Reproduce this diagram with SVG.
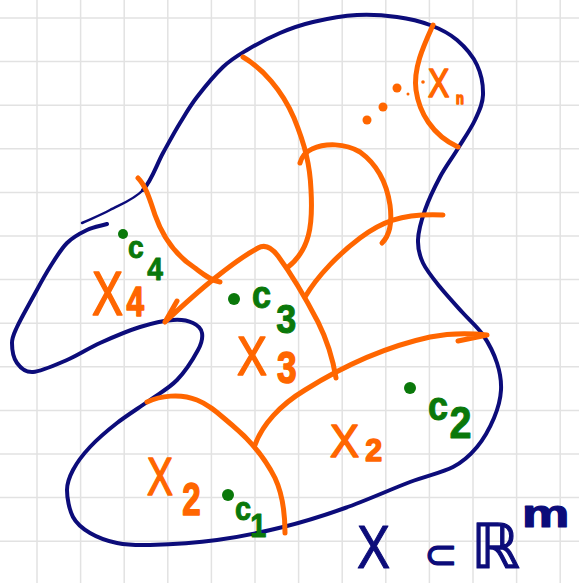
<svg xmlns="http://www.w3.org/2000/svg" width="579" height="583" viewBox="0 0 579 583">
<style>
.grid{stroke:#e2e2e2;stroke-width:1.5;fill:none}
.navy{stroke:#0c0c7a;fill:none;stroke-linecap:round;stroke-linejoin:round}
.or{stroke:#ff6600;fill:none;stroke-width:5;stroke-linecap:round;stroke-linejoin:round}
.ot{fill:#ff6600;stroke:#ff6600;stroke-width:1.6;stroke-linejoin:round;font-family:"Liberation Sans",Arial,sans-serif}
.gt{fill:#0a780a;stroke:#0a780a;stroke-width:1;stroke-linejoin:round;font-family:"Liberation Sans",Arial,sans-serif;font-weight:bold}
.nt{fill:#0c0c7a;stroke:#0c0c7a;stroke-width:1.2;stroke-linejoin:round;font-family:"Liberation Sans","DejaVu Sans",sans-serif}
.gd{fill:#0a780a}
.od{fill:#ff6600}
</style>
<rect width="579" height="583" fill="#ffffff"/>
<g id="grid">
<path class="grid" d="M37,0V583M80.6,0V583M124.2,0V583M167.8,0V583M211.4,0V583M255,0V583M298.6,0V583M342.2,0V583M385.8,0V583M429.4,0V583M473,0V583M516.6,0V583M560.2,0V583M0,18H579M0,61.6H579M0,105.2H579M0,148.8H579M0,192.4H579M0,236H579M0,279.6H579M0,323.2H579M0,366.8H579M0,410.4H579M0,454H579M0,497.6H579M0,541.2H579"/>
</g>
<g id="outline">
<path class="navy" stroke-width="2.5" d="M82,223 C91.3,218.7 99.8,215.5 110,210 S134.2,199.5 143,190 S156.8,164.2 163,153"/>
<path class="navy" stroke-width="4" d="M143,190 C151.8,180.5 156.8,164.2 163,153 S174.3,132.3 180,123 S189.8,106.3 197,97 S214.7,74.8 223,67 S237.5,55.7 247,50 S269,37.7 280,33 S300.2,25 313,22 S343,15.8 357,15 S384.8,15.3 397,17 S420,21.2 430,25 S449.2,33.3 457,40 S472.7,55.8 477,65 S483.3,85.8 483,95 S479.3,110.8 475,120 S462.8,140.5 457,150 S445.3,167 440,177 S428.7,199.5 425,210 S418.3,231.2 418,240 S419.3,255.2 423,263 S433.3,278.7 440,287 S455.8,305 463,313 S477.3,326.7 483,335 S494,353.8 497,363 S501.5,380.8 501,390 S498,408.5 494,418 S483.8,438.8 477,447 S464.2,461.2 453,467 S428,475.2 410,482 S366.2,500.5 345,508 S304.3,521.7 283,527 S239.2,537 217,540 S166.7,544.5 150,545 S127,545 117,543 S97.3,537.3 90,533 S76.8,524.2 73,517 S67,497.8 67,490 S69.2,477.2 73,470 S82.7,454.8 90,447 S107,430.8 117,423 S140,407.2 150,400 S169,388.3 177,380 S193.8,357.8 198,350 S202.8,337.5 202,333 S197.8,325.2 193,323 S181.8,319.3 173,320 S152.2,323.2 140,327 S112.2,337.5 100,343 S78.2,355.2 67,360 S41.3,371.5 33,372 S20.5,367.8 17,363 S12,349 12,343 S13.5,334.7 17,327 S27.5,307 33,297 S44.3,276 50,267 S60.8,249.2 67,243 S80.3,233.2 87,230 S100.3,226 107,224"/>
</g>
<g id="connectors">
<path class="or" stroke-width="6" d="M433,25 C424,45 413,68 416,90 C419,112 432,135 458,147"/>
<path class="or" d="M243,57 C262,68 282,90 294,118 C305,145 310,165 311,190 C313,225 310,250 287,268"/>
<path class="or" d="M300,163 C302,156 305,152 312,149 C325,143 345,143 360,152 C378,165 387,185 390,205 C392,220 390,235 382,243"/>
<path class="or" d="M305,297 C318,275 340,253 360,238 C380,223 400,213 443,215"/>
<path class="or" d="M138,178 C146,186 150,200 155,215 C162,235 175,255 195,268 C203,274 210,280 220,282"/>
<path class="or" d="M165,322 C180,308 200,290 215,278 C230,266 245,255 258,248 C265,244 272,248 278,256 C292,275 305,297 318,322 C327,340 333,360 336,378 M165,322 L177,301"/>
<path class="or" d="M255,445 C262,425 280,405 305,390 C340,368 380,348 430,337 C450,333 470,333 487,335 M487,335 L458,341"/>
<path class="or" stroke-width="5.5" d="M147,402 C160,396 180,393 197,400 C210,405 220,415 232,425 C250,440 265,458 275,478 C283,495 285,515 285,533"/>
</g>
<g id="Xn">
<circle class="od" cx="397" cy="88" r="4.5"/>
<circle class="od" cx="408" cy="94" r="1.5"/>
<circle class="od" cx="383" cy="107" r="4.5"/>
<circle class="od" cx="367" cy="120" r="4.5"/>
<circle class="od" cx="423" cy="82" r="1.8"/>
<text class="ot" transform="translate(428,97) scale(0.8,1)" font-size="40"><tspan x="0" y="0">X</tspan><tspan x="35" y="7" font-size="16" font-weight="bold">n</tspan></text>
</g>
<g id="X4">
<text class="ot" transform="translate(92,315) scale(0.75,1)" font-size="62"><tspan x="0" y="0">X</tspan><tspan x="46" y="1" font-size="42" font-weight="bold">4</tspan></text>
</g>
<g id="c4">
<circle class="gd" cx="123" cy="234" r="5"/>
<text class="gt" transform="translate(128,258) scale(0.88,1)" font-size="32"><tspan x="0" y="0">c</tspan><tspan x="22" y="22">4</tspan></text>
</g>
<g id="X3">
<text class="ot" transform="translate(237,375) scale(0.8,1)" font-size="56"><tspan x="0" y="0">X</tspan><tspan x="50" y="8" font-size="44" font-weight="bold">3</tspan></text>
</g>
<g id="c3">
<circle class="gd" cx="234" cy="299" r="6"/>
<text class="gt" transform="translate(252,308) scale(0.9,1)" font-size="38"><tspan x="0" y="0">c</tspan><tspan x="27" y="25" font-size="40">3</tspan></text>
</g>
<g id="X2right">
<text class="ot" transform="translate(330,457) scale(0.95,1)" font-size="46"><tspan x="0" y="0">X</tspan><tspan x="37" y="4" font-size="32" font-weight="bold">2</tspan></text>
</g>
<g id="c2">
<circle class="gd" cx="410" cy="388" r="6"/>
<text class="gt" transform="translate(428,420) scale(0.9,1)" font-size="40"><tspan x="0" y="0">c</tspan><tspan x="24" y="18" font-size="44">2</tspan></text>
</g>
<g id="X2left">
<text class="ot" transform="translate(147,495) scale(0.72,1)" font-size="54"><tspan x="0" y="0">X</tspan><tspan x="49" y="20" font-size="46" font-weight="bold">2</tspan></text>
</g>
<g id="c1">
<circle class="gd" cx="228" cy="495" r="6"/>
<text class="gt" transform="translate(235,520) scale(0.85,1)" font-size="34"><tspan x="0" y="0">c</tspan><tspan x="18" y="17">1</tspan></text>
</g>
<g id="caption">
<text class="nt" transform="translate(357,568) scale(0.8,1)" font-size="62" stroke-width="2.5">X</text>
<text class="nt" font-size="40"><tspan x="424" y="568" font-family="'DejaVu Sans',sans-serif">⊂</tspan><tspan x="471" y="568" font-size="62" font-family="'DejaVu Sans',sans-serif">ℝ</tspan></text>
<text class="nt" transform="translate(522,527) scale(1.4,1)" font-size="38" font-weight="bold">m</text>
</g>
</svg>
